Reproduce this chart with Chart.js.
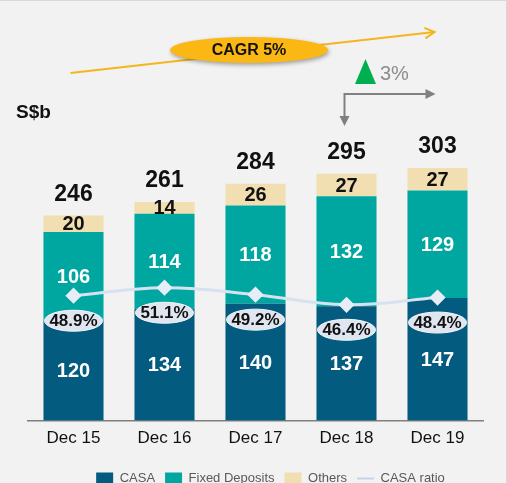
<!DOCTYPE html>
<html>
<head>
<meta charset="utf-8">
<script src="https://cdn.jsdelivr.net/npm/chart.js@4"></script>
<style>
  html, body { margin: 0; padding: 0; background: #f2f2f2; }
  canvas { display: block; }
</style>
</head>
<body>
<canvas id="chart" width="507" height="483"></canvas>
<script>
// data (S$b)
const categories = ['Dec 15', 'Dec 16', 'Dec 17', 'Dec 18', 'Dec 19'];
const casa = [120, 134, 140, 137, 147];
const fixedDeposits = [106, 114, 118, 132, 129];
const others = [20, 14, 26, 27, 27];
const totals = [246, 261, 284, 295, 303];
const casaRatio = [48.9, 51.1, 49.2, 46.4, 48.4];   // %

const FONT = '"Liberation Sans", Arial, sans-serif';
const COL_CASA = '#045b80';
const COL_FD = '#00a7a0';
const COL_OTHERS = '#f2dfb1';
const COL_RATIO = '#d6e2f0';

// background + frame
const bgPlugin = {
    id: 'bg',
    beforeDraw(chart) {
        const ctx = chart.ctx;
        ctx.save();
        ctx.fillStyle = '#f2f2f2';
        ctx.fillRect(0, 0, chart.width, chart.height);
        ctx.strokeStyle = '#d8d8d8';
        ctx.lineWidth = 1;
        ctx.beginPath();
        ctx.moveTo(0, 0.5); ctx.lineTo(chart.width - 0.5, 0.5); ctx.lineTo(chart.width - 0.5, chart.height);
        ctx.stroke();
        ctx.restore();
    }
};

// legend sits a bit lower and to the right on the slide
const legendShift = {
    id: 'legendShift',
    afterLayout(chart) {
        const lg = chart.legend;
        if (!lg) return;
        lg.left += 15; lg.right += 15;
        lg.top += 13; lg.bottom += 13;
    }
};

// numbers in the bars, totals on top, ratio bubbles under the line
const labelPlugin = {
    id: 'valueLabels',
    afterDatasetsDraw(chart) {
        const ctx = chart.ctx;
        ctx.save();
        ctx.textAlign = 'center';
        ctx.textBaseline = 'middle';

        const segColors = ['#ffffff', '#ffffff', '#111111'];
        [0, 1, 2].forEach(di => {
            const meta = chart.getDatasetMeta(di);
            meta.data.forEach((el, i) => {
                ctx.fillStyle = segColors[di];
                ctx.font = 'bold 20px ' + FONT;
                ctx.fillText(chart.data.datasets[di].data[i], el.x, (el.y + el.base) / 2 + 1);
            });
        });

        // totals
        const topMeta = chart.getDatasetMeta(2);
        topMeta.data.forEach((el, i) => {
            ctx.fillStyle = '#111111';
            ctx.font = 'bold 23px ' + FONT;
            ctx.fillText(totals[i], el.x, el.y - 21);
        });

        // CASA ratio bubbles
        const lineMeta = chart.getDatasetMeta(3);
        lineMeta.data.forEach((pt, i) => {
            const cy = pt.y + 25;
            ctx.beginPath();
            ctx.ellipse(pt.x, cy, 29, 10.5, 0, 0, Math.PI * 2);
            ctx.fillStyle = '#dfe6f0';
            ctx.fill();
            ctx.strokeStyle = '#f4f6fa';
            ctx.lineWidth = 1;
            ctx.stroke();
            ctx.fillStyle = '#111111';
            ctx.font = 'bold 17px ' + FONT;
            ctx.fillText(casaRatio[i].toFixed(1) + '%', pt.x, cy + 1);
        });
        ctx.restore();
    }
};

// unit label, CAGR arrow, YoY bracket
const annotPlugin = {
    id: 'annotations',
    afterDraw(chart) {
        const ctx = chart.ctx;
        const xs = chart.scales.x;
        const x0 = xs.getPixelForValue(0) - 3;
        const x4 = xs.getPixelForValue(4) - 3;
        const x3 = xs.getPixelForValue(3) - 2;
        ctx.save();

        ctx.fillStyle = '#111111';
        ctx.font = 'bold 19px ' + FONT;
        ctx.textAlign = 'left';
        ctx.textBaseline = 'middle';
        ctx.fillText('S$b', 16, 113);

        // CAGR arrow
        const y0 = 73, y1 = 32;
        ctx.strokeStyle = '#f5b51e';
        ctx.lineWidth = 2;
        ctx.beginPath();
        ctx.moveTo(x0, y0); ctx.lineTo(x4, y1);
        ctx.stroke();
        const ang = Math.atan2(y1 - y0, x4 - x0);
        ctx.beginPath();
        ctx.moveTo(x4 - 11 * Math.cos(ang - 0.5), y1 - 11 * Math.sin(ang - 0.5));
        ctx.lineTo(x4, y1);
        ctx.lineTo(x4 - 11 * Math.cos(ang + 0.5), y1 - 11 * Math.sin(ang + 0.5));
        ctx.stroke();

        ctx.save();
        ctx.shadowColor = 'rgba(0,0,0,0.35)';
        ctx.shadowBlur = 4;
        ctx.shadowOffsetX = 1;
        ctx.shadowOffsetY = 2;
        ctx.fillStyle = '#fbb814';
        ctx.beginPath();
        ctx.ellipse(249, 50, 79, 13, 0, 0, Math.PI * 2);
        ctx.fill();
        ctx.restore();
        ctx.fillStyle = '#111111';
        ctx.font = 'bold 16px ' + FONT;
        ctx.textAlign = 'center';
        ctx.fillText('CAGR 5%', 249, 51);

        // green up triangle + 3%
        ctx.fillStyle = '#00b050';
        ctx.beginPath();
        ctx.moveTo(355, 84); ctx.lineTo(376, 84); ctx.lineTo(365.5, 59);
        ctx.closePath();
        ctx.fill();
        ctx.fillStyle = '#8c8c8c';
        ctx.font = '20px ' + FONT;
        ctx.textAlign = 'left';
        ctx.fillText('3%', 380, 74);

        // bracket arrow
        const by = 94;
        ctx.strokeStyle = '#808080';
        ctx.fillStyle = '#808080';
        ctx.lineWidth = 2;
        ctx.beginPath();
        ctx.moveTo(x3, 118); ctx.lineTo(x3, by); ctx.lineTo(x4 - 8, by);
        ctx.stroke();
        ctx.beginPath();
        ctx.moveTo(x4 + 1, by); ctx.lineTo(x4 - 9, by - 5); ctx.lineTo(x4 - 9, by + 5);
        ctx.closePath(); ctx.fill();
        ctx.beginPath();
        ctx.moveTo(x3, 126); ctx.lineTo(x3 - 5, 116); ctx.lineTo(x3 + 5, 116);
        ctx.closePath(); ctx.fill();

        ctx.restore();
    }
};

new Chart(document.getElementById('chart'), {
    data: {
        labels: categories,
        datasets: [
            { type: 'bar', label: 'CASA', data: casa, backgroundColor: COL_CASA, order: 1, barPercentage: 0.66, categoryPercentage: 1 },
            { type: 'bar', label: 'Fixed Deposits', data: fixedDeposits, backgroundColor: COL_FD, order: 1, barPercentage: 0.66, categoryPercentage: 1 },
            { type: 'bar', label: 'Others', data: others, backgroundColor: COL_OTHERS, order: 1, barPercentage: 0.66, categoryPercentage: 1 },
            {
                type: 'line', label: 'CASA ratio', data: casaRatio, yAxisID: 'y1', order: 0,
                borderColor: COL_RATIO, borderWidth: 3, tension: 0.4,
                pointStyle: 'rectRot', pointRadius: 6, pointBackgroundColor: '#e6edf6', pointBorderColor: '#e6edf6'
            }
        ]
    },
    options: {
        responsive: false,
        animation: false,
        layout: { padding: { left: 28, right: 24, top: 87, bottom: 1 } },
        plugins: {
            tooltip: { enabled: false },
            legend: {
                position: 'bottom',
                labels: {
                    usePointStyle: true,
                    pointStyleWidth: 17,
                    boxHeight: 12,
                    padding: 10,
                    color: '#595959',
                    font: { family: FONT, size: 13 },
                    generateLabels: chart => chart.data.datasets.map((ds, i) => ({
                        text: ds.label,
                        datasetIndex: i,
                        fillStyle: ds.type === 'line' ? ds.borderColor : ds.backgroundColor,
                        strokeStyle: ds.type === 'line' ? '#c3d4ea' : ds.backgroundColor,
                        lineWidth: ds.type === 'line' ? 2 : 0,
                        pointStyle: ds.type === 'line' ? 'line' : 'rect',
                        fontColor: '#595959',
                        hidden: false
                    }))
                }
            }
        },
        scales: {
            x: {
                stacked: true,
                grid: { display: false },
                border: { display: true, color: '#7f7f7f', width: 1.5 },
                ticks: { color: '#111111', font: { family: FONT, size: 17 }, padding: 0 }
            },
            y: { stacked: true, display: false, min: 0, max: 400 },
            y1: { display: false, min: 14.5, max: 106.4 }
        }
    },
    plugins: [bgPlugin, legendShift, labelPlugin, annotPlugin]
});
</script>
</body>
</html>
